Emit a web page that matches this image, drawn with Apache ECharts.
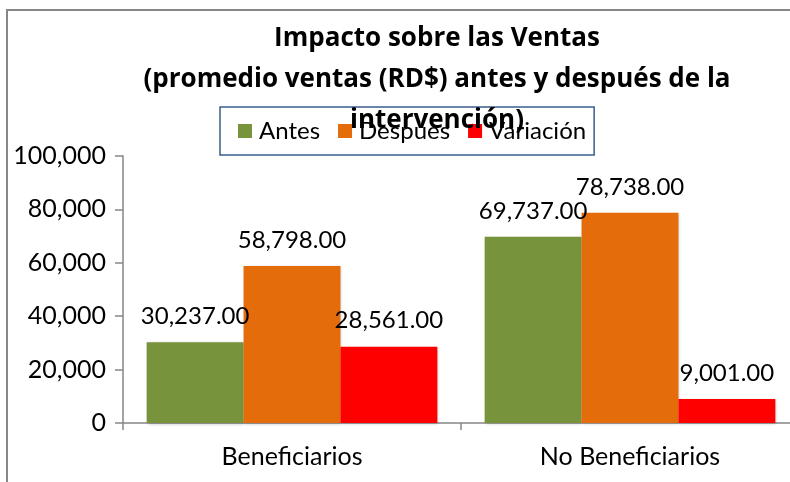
<!DOCTYPE html>
<html>
<head>
<meta charset="utf-8">
<script src="https://cdn.jsdelivr.net/npm/echarts@6/dist/echarts.min.js"></script>
<style>
  html, body { margin: 0; padding: 0; background: #fff; }
  #main { width: 790px; height: 482px; }
</style>
</head>
<body>
<div id="main"></div>
<script>
const categories = ['Beneficiarios', 'No Beneficiarios'];
const seriesNames = ['Antes', 'Despues', 'Variación'];
const antes = [30237, 69737];
const despues = [58798, 78738];
const variacion = [28561, 9001];
const yTicks = [0, 20000, 40000, 60000, 80000, 100000];

const colors = ['#77933C', '#E46C0A', '#FF0000'];
const font = 'Lato, "Open Sans", sans-serif';
const titleFont = '"Open Sans", Lato, sans-serif';

const myChart = echarts.init(document.getElementById('main'));

function fmt2(v) {
  return v.toLocaleString('en-US', { minimumFractionDigits: 2, maximumFractionDigits: 2 });
}

const labelOption = {
  show: true,
  position: 'top',
  distance: 14,
  fontSize: 24,
  fontFamily: font,
  color: '#000',
  formatter: p => fmt2(p.value)
};

const barShadow = { shadowColor: 'rgba(0,0,0,0.25)', shadowBlur: 3, shadowOffsetX: 1, shadowOffsetY: 1 };

const option = {
  animation: false,
  textStyle: { fontFamily: font },
  title: {
    text: 'Impacto sobre las Ventas\n(promedio ventas (RD$) antes y después de la\nintervención)',
    left: 432,
    top: 13,
    textAlign: 'center',
    z: 10,
    textStyle: { fontSize: 26, fontWeight: 'bold', lineHeight: 41, color: '#000', fontFamily: titleFont }
  },
  legend: {
    data: seriesNames,
    left: 220,
    top: 107,
    padding: [12, 8, 12, 18],
    borderColor: '#385D8A',
    borderWidth: 1.5,
    itemWidth: 14,
    itemHeight: 14,
    itemGap: 18,
    icon: 'rect',
    textStyle: { fontSize: 24, color: '#000', fontFamily: font, padding: [0, 0, 0, 2] }
  },
  grid: { left: 123, top: 156, height: 267, width: 676, outerBoundsMode: 'none', containLabel: false },
  xAxis: {
    type: 'category',
    data: categories,
    axisLine: { lineStyle: { color: '#868686', width: 1.5 } },
    axisTick: { show: true, length: 7, lineStyle: { color: '#868686', width: 1.5 } },
    axisLabel: { fontSize: 25, color: '#000', margin: 21, fontFamily: font }
  },
  yAxis: {
    type: 'value',
    min: yTicks[0],
    max: yTicks[yTicks.length - 1],
    interval: yTicks[1] - yTicks[0],
    axisLine: { show: true, lineStyle: { color: '#868686', width: 1.5 } },
    axisTick: { show: true, length: 8, lineStyle: { color: '#868686', width: 1.5 } },
    splitLine: { show: false },
    axisLabel: {
      fontSize: 25, color: '#000', margin: 17, fontFamily: font,
      formatter: v => v.toLocaleString('en-US')
    }
  },
  graphic: [
    { type: 'polyline', shape: { points: [[7, 482], [7, 10], [790, 10]] }, style: { stroke: '#878787', lineWidth: 2, fill: null }, silent: true }
  ],
  series: [
    { name: seriesNames[0], type: 'bar', data: antes, barGap: '0%', barCategoryGap: '14%', itemStyle: Object.assign({ color: colors[0] }, barShadow), label: labelOption },
    { name: seriesNames[1], type: 'bar', data: despues, itemStyle: Object.assign({ color: colors[1] }, barShadow), label: labelOption },
    { name: seriesNames[2], type: 'bar', data: variacion, itemStyle: Object.assign({ color: colors[2] }, barShadow), label: labelOption }
  ]
};

myChart.setOption(option);
</script>
</body>
</html>
